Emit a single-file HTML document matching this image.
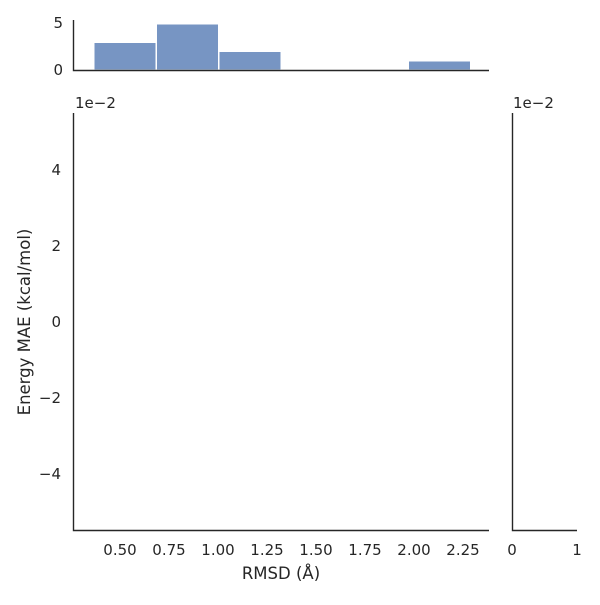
<!DOCTYPE html>
<html><head><meta charset="utf-8"><style>
html,body{margin:0;padding:0;background:#fff}
svg text{font-family:"DejaVu Sans","Liberation Sans",sans-serif;font-size:15px;fill:#262626}
</style></head><body>
<svg width="600" height="600" viewBox="0 0 600 600" xmlns="http://www.w3.org/2000/svg">
<g fill="#7795c3" stroke="#fff" stroke-width="1">
<rect x="94" y="42.5" width="62" height="27.5"/>
<rect x="156.5" y="24" width="62" height="46"/>
<rect x="219" y="51.5" width="62" height="18.5"/>
<rect x="408.5" y="61" width="62" height="9"/>
</g>
<g stroke="#262626" stroke-width="1.4" fill="none">
<path d="M73.5 20V70.5H489"/>
<path d="M73.5 113V530.5H489"/>
<path d="M512.5 113V530.5H577"/>
</g>
<text x="63" y="28" text-anchor="end">5</text>
<text x="63" y="75" text-anchor="end">0</text>
<text x="75" y="108">1e−2</text>
<text x="513" y="108">1e−2</text>
<g text-anchor="end">
<text x="61" y="175">4</text>
<text x="61" y="251">2</text>
<text x="61" y="327">0</text>
<text x="61" y="403">−2</text>
<text x="61" y="479">−4</text>
</g>
<g text-anchor="middle">
<text x="120" y="555">0.50</text>
<text x="169" y="555">0.75</text>
<text x="218" y="555">1.00</text>
<text x="267" y="555">1.25</text>
<text x="316" y="555">1.50</text>
<text x="365" y="555">1.75</text>
<text x="414" y="555">2.00</text>
<text x="463" y="555">2.25</text>
<text x="512" y="555">0</text>
<text x="577" y="555">1</text>
<text x="281" y="579" style="font-size:16.5px">RMSD (Å)</text>
<text transform="translate(30,322) rotate(-90)" style="font-size:16.5px">Energy MAE (kcal/mol)</text>
</g>
</svg>
</body></html>
